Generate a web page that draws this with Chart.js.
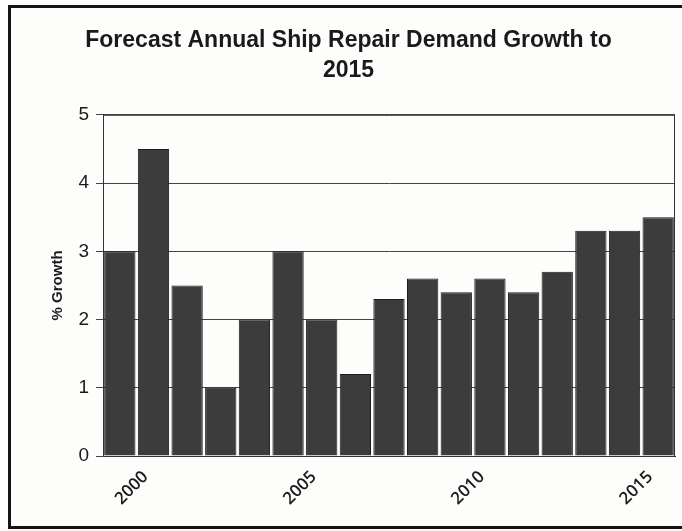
<!DOCTYPE html>
<html lang="en">
<head>
    <meta charset="UTF-8">
    <title>Forecast Annual Ship Repair Demand Growth to 2015</title>
    <script src="https://cdn.jsdelivr.net/npm/chart.js"></script>
    <style>
        body {
            margin: 0;
            background: #fdfdfc;
            width: 682px;
            height: 531px;
            overflow: hidden;
            position: relative;
        }
        .frame {
            position: absolute;
            left: 8px;
            top: 5px;
            width: 700px;
            height: 518px;
            border: 3px solid #141414;
        }
        #growthChart {
            position: absolute;
            left: 0;
            top: 0;
        }
    </style>
</head>
<body>

    <div class="frame"></div>
    <canvas id="growthChart" width="682" height="531"></canvas>

    <script>
        // values
        const years = [1999, 2000, 2001, 2002, 2003, 2004, 2005, 2006, 2007, 2008,
                       2009, 2010, 2011, 2012, 2013, 2014, 2015];
        const growth = [3.0, 4.5, 2.5, 1.0, 2.0, 3.0, 2.0, 1.2, 2.3, 2.6,
                        2.4, 2.6, 2.4, 2.7, 3.3, 3.3, 3.5];
        const labelledYears = [2000, 2005, 2010, 2015];
        const yTicks = [0, 1, 2, 3, 4, 5];

        // box around the plot area (top + right edges like the original)
        const plotBox = {
            id: "plotBox",
            afterDraw(chart) {
                const a = chart.chartArea;
                const ctx = chart.ctx;
                ctx.save();
                ctx.strokeStyle = "#333";
                ctx.lineWidth = 1;
                ctx.strokeRect(a.left + 0.5, a.top + 0.5, a.right - a.left - 1, a.bottom - a.top);
                ctx.restore();
            }
        };

        const ctx = document.getElementById("growthChart").getContext("2d");
        new Chart(ctx, {
            type: "bar",
            data: {
                labels: years.map(String),
                datasets: [{
                    label: "% Growth",
                    data: growth,
                    backgroundColor: "#3c3c3c",
                    borderColor: "#1c1c1c",
                    borderWidth: 1,
                    barPercentage: 0.93,
                    categoryPercentage: 1.0
                }]
            },
            options: {
                responsive: false,
                animation: false,
                layout: {
                    padding: { left: 22, right: 7, top: 4, bottom: 0 }
                },
                plugins: {
                    legend: { display: false },
                    tooltip: { enabled: false },
                    title: {
                        display: true,
                        text: ["Forecast Annual Ship Repair Demand Growth to", "2015"],
                        color: "#1a1a1a",
                        font: { family: "Arial, 'Liberation Sans', sans-serif", size: 23, weight: "bold", lineHeight: 1.3 },
                        padding: { top: 22, bottom: 29 }
                    }
                },
                scales: {
                    x: {
                        grid: { display: false },
                        border: { display: true, color: "#222", width: 1 },
                        ticks: {
                            autoSkip: false,
                            minRotation: 45,
                            maxRotation: 45,
                            labelOffset: -8,
                            padding: 3,
                            color: "#1a1a1a",
                            font: { family: "'Open Sans', Arial, sans-serif", size: 17, weight: "600" },
                            callback: function (value) {
                                const yr = years[value];
                                return labelledYears.includes(yr) ? String(yr) : "";
                            }
                        },
                        afterFit: function (scale) { scale.height = 75; }
                    },
                    y: {
                        min: 0,
                        max: 5,
                        afterBuildTicks: function (scale) {
                            scale.ticks = yTicks.map(v => ({ value: v }));
                        },
                        grid: { color: "#444", lineWidth: 1, tickLength: 7 },
                        border: { display: true, color: "#222", width: 1 },
                        ticks: {
                            padding: 7,
                            color: "#1a1a1a",
                            font: { family: "Arial, 'Liberation Sans', sans-serif", size: 19 }
                        },
                        title: {
                            display: true,
                            text: "% Growth",
                            color: "#1a1a1a",
                            font: { family: "Arial, 'Liberation Sans', sans-serif", size: 15, weight: "bold" },
                            padding: { top: 27, bottom: 0 }
                        },
                        afterFit: function (scale) { scale.width = 81; }
                    }
                }
            },
            plugins: [plotBox]
        });
    </script>

</body>
</html>
